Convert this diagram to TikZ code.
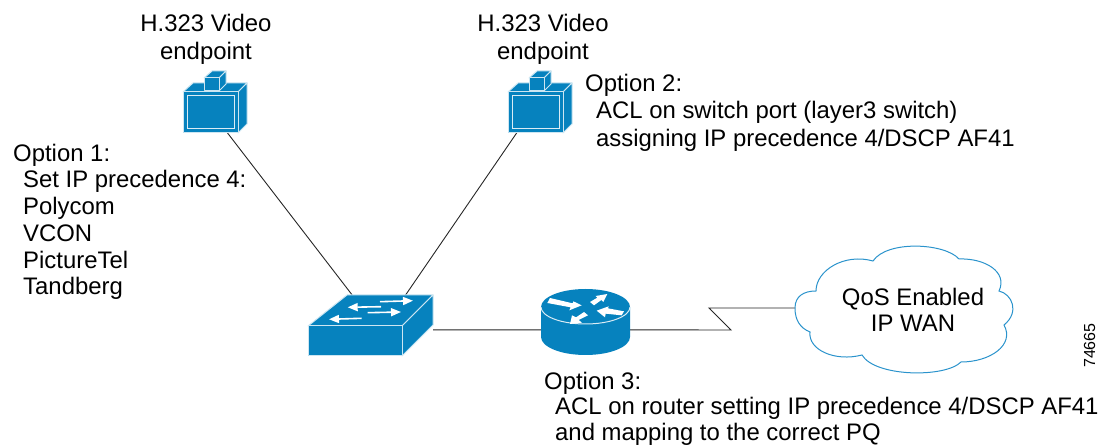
\documentclass[tikz,border=0pt]{standalone}
\usepackage{fontspec}
\setmainfont{Liberation Sans}
\usetikzlibrary{arrows.meta}
\definecolor{ciscoblue}{HTML}{0682BE}
\definecolor{cloudblue}{HTML}{2A93CC}
\tikzset{
  lbl/.style={anchor=base west,inner sep=0pt,font=\fontsize{23.9}{28}\selectfont,text=black},
  lblc/.style={lbl,anchor=base},
  iconbox/.style={inner sep=0pt,outer sep=0pt,rectangle},
  link/.style={draw=black!85,line width=0.9pt},
  face/.style={fill=ciscoblue,draw=white!80!ciscoblue,line width=1pt,line join=round},
  swarr/.style={draw=white,line width=1.6pt,-{Triangle[length=10pt,width=8pt]}},
}
\newcommand{\epicon}[2]{%
  \begin{scope}[shift={(#1,#2)}]
    \path[face] (0,21) -- (10,12) -- (64,12) -- (55,21) -- cycle;
    \path[face] (55,21) -- (64,12) -- (64,53) -- (55,62) -- cycle;
    \path[face] (0,21) -- (55,21) -- (55,62) -- (0,62) -- cycle;
    \path[face] (21,7) -- (29,0) -- (43,0) -- (36,7) -- cycle;
    \path[face] (36,7) -- (43,0) -- (43,13) -- (36,20) -- cycle;
    \path[face] (21,7) -- (36,7) -- (36,20) -- (21,20) -- cycle;
    \draw[white!85!ciscoblue,line width=1pt] (4,25) rectangle (51,58);
  \end{scope}}
\begin{document}
\begin{tikzpicture}[x=1pt,y=-1pt]
\useasboundingbox (0,0) rectangle (1109,446);
% named icon frames
\node[iconbox,minimum width=64pt,minimum height=62pt] (ep1) at (215,102) {};
\node[iconbox,minimum width=64pt,minimum height=62pt] (ep2) at (540,102) {};
\node[iconbox,minimum width=125pt,minimum height=61pt] (sw) at (370.5,325.5) {};
\node[iconbox,minimum width=89pt,minimum height=66pt] (rt) at (585.5,322) {};
\node[iconbox,minimum width=220pt,minimum height=127pt] (wan) at (905,308) {};
\coordinate (z1) at (731,330);
\coordinate (z2) at (709,308);
% connectors
\draw[link] (ep1.-68.8) -- (sw.121.2);
\draw[link] (ep2.233.4) -- (sw.41.5);
\draw[link] (sw.-4.1) -- (rt.190.2);
\draw[link] (rt.-10.2) -- (z1) -- (z2) -- (wan.west);
% endpoints
\epicon{183}{71}
\epicon{508}{71}
% switch
\path[face] (308,326) -- (347,295) -- (433,295) -- (402,326) -- cycle;
\path[face] (402,326) -- (433,295) -- (433,325) -- (402,356) -- cycle;
\path[face] (308,326) -- (402,326) -- (402,356) -- (308,356) -- cycle;
\draw[swarr] (380,301.7) -- (413,300.7);
\draw[swarr] (381,306.7) -- (347.7,307.3);
\draw[swarr] (367.7,312.7) -- (401,312);
\draw[swarr] (361.7,318.3) -- (329,319.3);
% router
\fill[ciscoblue] (541,307) -- (541,337) arc[start angle=180,end angle=0,x radius=44.5,y radius=18] -- (630,307) arc[start angle=0,end angle=-180,x radius=44.5,y radius=18] -- cycle;
\draw[white!85!ciscoblue,line width=1pt] (541,307) arc[start angle=180,end angle=0,x radius=44.5,y radius=17];
\begin{scope}[shift={(540,288)},scale=1/3]
  \fill[white] (30,30) -- (98,46) -- (100,40) -- (125,52) -- (88,67) -- (92,58) -- (22,45) -- cycle;
  \fill[white] (150,42) -- (172,29) -- (167,24) -- (202,18) -- (190,42) -- (184,36) -- (162,52) -- cycle;
  \fill[white] (132,72) -- (108,88) -- (96,82) -- (90,108) -- (126,104) -- (116,96) -- (144,82) -- cycle;
  \fill[white] (252,70) -- (204,61) -- (206,55) -- (170,68) -- (195,88) -- (197,77) -- (245,82) -- cycle;
\end{scope}
% cloud
\draw[cloudblue,line width=1pt,fill=white] (795,308)
  .. controls (795,296) and (804,291) .. (816,291)
  .. controls (816,270) and (845,253) .. (873,261)
  .. controls (887,240) and (945,243) .. (959,259)
  .. controls (985,258) and (1008,272) .. (999,291)
  .. controls (1012,294) and (1020,312) .. (1004,325)
  .. controls (1015,345) and (990,362) .. (961,362)
  .. controls (945,378) and (875,377) .. (862,355)
  .. controls (835,362) and (808,350) .. (810,332)
  .. controls (800,328) and (795,320) .. (795,308) -- cycle;
% labels
\node[lblc] (t1a) at (206,32) {H.323 Video};
\node[lblc] (t1b) at (206,60) {endpoint};
\node[lblc] (t2a) at (543,32) {H.323 Video};
\node[lblc] (t2b) at (543,60) {endpoint};
\node[lbl] (o1) at (13,162) {Option 1:};
\node[lbl] (o1a) at (23,188) {Set IP precedence 4:};
\node[lbl] (o1b) at (23,215) {Polycom};
\node[lbl] (o1c) at (23,242) {VCON};
\node[lbl] (o1d) at (23,269) {PictureTel};
\node[lbl] (o1e) at (23,295) {Tandberg};
\node[lbl] (o2) at (585,92) {Option 2:};
\node[lbl] (o2a) at (596,119) {ACL on switch port (layer3 switch)};
\node[lbl] (o2b) at (596,147) {assigning IP precedence 4/DSCP AF41};
\node[lbl] (o3) at (544,390) {Option 3:};
\node[lbl] (o3a) at (555,414) {ACL on router setting IP precedence 4/DSCP AF41};
\node[lbl] (o3b) at (555,440) {and mapping to the correct PQ};
\node[lblc] (w1) at (913,306) {QoS Enabled};
\node[lblc] (w2) at (913,332) {IP WAN};
\node[lbl,font=\fontsize{16}{18}\selectfont,rotate=90] (num) at (1095,368) {74665};
\end{tikzpicture}
\end{document}
